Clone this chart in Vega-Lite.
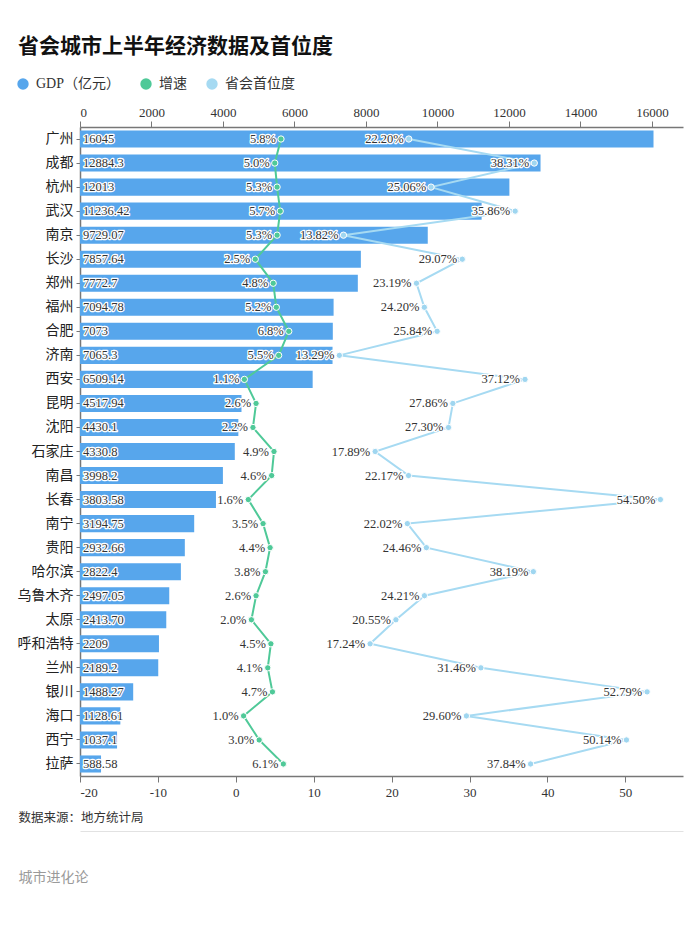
{
  "$schema": "https://vega.github.io/schema/vega-lite/v6.json",
  "autosize": "none",
  "width": 603,
  "height": 649,
  "padding": {"left": 80, "top": 127, "right": 17, "bottom": 158},
  "background": "white",
  "title": {
    "text": "省会城市上半年经济数据及首位度",
    "anchor": "start",
    "frame": "group",
    "dx": -62,
    "offset": 20,
    "fontSize": 21,
    "fontWeight": "bold",
    "color": "#111",
    "font": "Liberation Serif, Noto Sans CJK SC"
  },
  "config": {
    "view": {"stroke": null},
    "font": "Liberation Serif, Noto Sans CJK SC",
    "axis": {
      "grid": false,
      "domainColor": "#777",
      "domainWidth": 1.5,
      "tickColor": "#777",
      "labelColor": "#333",
      "labelFontSize": 13,
      "titleFont": "Noto Sans CJK SC"
    }
  },
  "data": {
    "values": [
      {"city": "广州", "gdp": 16045, "gdpText": "16045", "growth": 5.8, "growthText": "5.8%", "primacy": 22.20, "primacyText": "22.20%"},
      {"city": "成都", "gdp": 12884.3, "gdpText": "12884.3", "growth": 5.0, "growthText": "5.0%", "primacy": 38.31, "primacyText": "38.31%"},
      {"city": "杭州", "gdp": 12013, "gdpText": "12013", "growth": 5.3, "growthText": "5.3%", "primacy": 25.06, "primacyText": "25.06%"},
      {"city": "武汉", "gdp": 11236.42, "gdpText": "11236.42", "growth": 5.7, "growthText": "5.7%", "primacy": 35.86, "primacyText": "35.86%"},
      {"city": "南京", "gdp": 9729.07, "gdpText": "9729.07", "growth": 5.3, "growthText": "5.3%", "primacy": 13.82, "primacyText": "13.82%"},
      {"city": "长沙", "gdp": 7857.64, "gdpText": "7857.64", "growth": 2.5, "growthText": "2.5%", "primacy": 29.07, "primacyText": "29.07%"},
      {"city": "郑州", "gdp": 7772.7, "gdpText": "7772.7", "growth": 4.8, "growthText": "4.8%", "primacy": 23.19, "primacyText": "23.19%"},
      {"city": "福州", "gdp": 7094.78, "gdpText": "7094.78", "growth": 5.2, "growthText": "5.2%", "primacy": 24.20, "primacyText": "24.20%"},
      {"city": "合肥", "gdp": 7073, "gdpText": "7073", "growth": 6.8, "growthText": "6.8%", "primacy": 25.84, "primacyText": "25.84%"},
      {"city": "济南", "gdp": 7065.3, "gdpText": "7065.3", "growth": 5.5, "growthText": "5.5%", "primacy": 13.29, "primacyText": "13.29%"},
      {"city": "西安", "gdp": 6509.14, "gdpText": "6509.14", "growth": 1.1, "growthText": "1.1%", "primacy": 37.12, "primacyText": "37.12%"},
      {"city": "昆明", "gdp": 4517.94, "gdpText": "4517.94", "growth": 2.6, "growthText": "2.6%", "primacy": 27.86, "primacyText": "27.86%"},
      {"city": "沈阳", "gdp": 4430.1, "gdpText": "4430.1", "growth": 2.2, "growthText": "2.2%", "primacy": 27.30, "primacyText": "27.30%"},
      {"city": "石家庄", "gdp": 4330.8, "gdpText": "4330.8", "growth": 4.9, "growthText": "4.9%", "primacy": 17.89, "primacyText": "17.89%"},
      {"city": "南昌", "gdp": 3998.2, "gdpText": "3998.2", "growth": 4.6, "growthText": "4.6%", "primacy": 22.17, "primacyText": "22.17%"},
      {"city": "长春", "gdp": 3803.58, "gdpText": "3803.58", "growth": 1.6, "growthText": "1.6%", "primacy": 54.50, "primacyText": "54.50%"},
      {"city": "南宁", "gdp": 3194.75, "gdpText": "3194.75", "growth": 3.5, "growthText": "3.5%", "primacy": 22.02, "primacyText": "22.02%"},
      {"city": "贵阳", "gdp": 2932.66, "gdpText": "2932.66", "growth": 4.4, "growthText": "4.4%", "primacy": 24.46, "primacyText": "24.46%"},
      {"city": "哈尔滨", "gdp": 2822.4, "gdpText": "2822.4", "growth": 3.8, "growthText": "3.8%", "primacy": 38.19, "primacyText": "38.19%"},
      {"city": "乌鲁木齐", "gdp": 2497.05, "gdpText": "2497.05", "growth": 2.6, "growthText": "2.6%", "primacy": 24.21, "primacyText": "24.21%"},
      {"city": "太原", "gdp": 2413.70, "gdpText": "2413.70", "growth": 2.0, "growthText": "2.0%", "primacy": 20.55, "primacyText": "20.55%"},
      {"city": "呼和浩特", "gdp": 2209, "gdpText": "2209", "growth": 4.5, "growthText": "4.5%", "primacy": 17.24, "primacyText": "17.24%"},
      {"city": "兰州", "gdp": 2189.2, "gdpText": "2189.2", "growth": 4.1, "growthText": "4.1%", "primacy": 31.46, "primacyText": "31.46%"},
      {"city": "银川", "gdp": 1488.27, "gdpText": "1488.27", "growth": 4.7, "growthText": "4.7%", "primacy": 52.79, "primacyText": "52.79%"},
      {"city": "海口", "gdp": 1128.61, "gdpText": "1128.61", "growth": 1.0, "growthText": "1.0%", "primacy": 29.60, "primacyText": "29.60%"},
      {"city": "西宁", "gdp": 1037.1, "gdpText": "1037.1", "growth": 3.0, "growthText": "3.0%", "primacy": 50.14, "primacyText": "50.14%"},
      {"city": "拉萨", "gdp": 588.58, "gdpText": "588.58", "growth": 6.1, "growthText": "6.1%", "primacy": 37.84, "primacyText": "37.84%"}
    ]
  },
  "encoding": {
    "y": {
      "field": "city",
      "type": "nominal",
      "sort": null,
      "scale": {"paddingInner": 0.29, "paddingOuter": 0.145},
      "axis": {
        "title": "城市进化论",
        "titleAngle": 0,
        "titleX": -62,
        "titleY": 750,
        "titleAlign": "left",
        "titleBaseline": "middle",
        "titleColor": "#9a9a9a",
        "titleFontSize": 14,
        "titleFontWeight": "normal",
        "labelFontSize": 14,
        "labelColor": "#222",
        "labelPadding": 3,
        "tickSize": 4
      }
    }
  },
  "layer": [
    {
      "encoding": {
        "x": {
          "field": "gdp",
          "type": "quantitative",
          "scale": {"domain": [0, 16870], "nice": false, "zero": false},
          "axis": {"orient": "top", "title": null, "values": [0, 2000, 4000, 6000, 8000, 10000, 12000, 14000, 16000], "labelExpr": "'' + datum.value", "tickSize": 6, "labelPadding": 2}
        }
      },
      "layer": [
        {
          "mark": {"type": "bar"},
          "encoding": {
            "color": {
              "datum": "GDP（亿元）",
              "scale": {"domain": ["GDP（亿元）", "增速", "省会首位度"], "range": ["#57a6ec", "#4fc998", "#a6daf2"]},
              "legend": {
                "title": null,
                "orient": "none",
                "legendX": -64,
                "legendY": -50,
                "direction": "horizontal",
                "symbolType": "circle",
                "symbolSize": 130,
                "symbolStrokeWidth": 0,
                "labelFontSize": 14,
                "labelColor": "#333",
                "labelFont": "Liberation Serif, Noto Sans CJK SC",
                "columnPadding": 18,
                "labelOffset": 6
              }
            }
          }
        },
        {
          "mark": {"type": "text", "align": "left", "baseline": "middle", "dx": 3, "fontSize": 12.5, "fill": "#333", "stroke": "white", "strokeWidth": 2.5, "strokeJoin": "round"},
          "encoding": {"x": {"datum": 0}, "text": {"field": "gdpText"}}
        }
      ]
    },
    {
      "mark": {"type": "text", "align": "left", "baseline": "middle", "dx": 3, "fontSize": 12.5, "fill": "#333"},
      "encoding": {
        "x": {
          "datum": 0,
          "type": "quantitative",
          "scale": {"domain": [0, 16870], "nice": false, "zero": false},
          "axis": {"orient": "bottom", "offset": 55, "title": null, "labels": false, "ticks": false, "domainColor": "#e2e2e2", "domainWidth": 1}
        },
        "text": {"field": "gdpText"}
      }
    },
    {
      "encoding": {
        "x": {
          "field": "growth",
          "type": "quantitative",
          "scale": {"domain": [-20, 57.4], "nice": false, "zero": false},
          "axis": {
            "orient": "bottom",
            "values": [-20, -10, 0, 10, 20, 30, 40, 50],
            "labelExpr": "'' + datum.value",
            "tickSize": 6,
            "labelPadding": 4,
            "title": "数据来源：地方统计局",
            "titleX": -62,
            "titleY": 41,
            "titleAlign": "left",
            "titleAnchor": "start",
            "titleBaseline": "middle",
            "titleFontSize": 12.5,
            "titleFontWeight": "normal",
            "titleColor": "#333"
          }
        }
      },
      "layer": [
        {
          "mark": {"type": "line", "strokeWidth": 2, "color": "#a6daf2"},
          "encoding": {"x": {"field": "primacy", "type": "quantitative"}, "order": {"value": null}}
        },
        {
          "mark": {"type": "line", "strokeWidth": 2, "color": "#4fc998"},
          "encoding": {"order": {"value": null}}
        },
        {
          "mark": {"type": "point", "filled": true, "size": 40, "color": "#9fd6f0", "stroke": "white", "strokeWidth": 1, "opacity": 1},
          "encoding": {"x": {"field": "primacy", "type": "quantitative"}}
        },
        {
          "mark": {"type": "point", "filled": true, "size": 40, "color": "#4fc998", "stroke": "white", "strokeWidth": 1, "opacity": 1},
          "encoding": {}
        },
        {
          "mark": {"type": "text", "align": "right", "baseline": "middle", "dx": -5, "fontSize": 12.5, "fill": "#333", "stroke": "white", "strokeWidth": 2.5, "strokeJoin": "round"},
          "encoding": {"x": {"field": "primacy", "type": "quantitative"}, "text": {"field": "primacyText"}}
        },
        {
          "mark": {"type": "text", "align": "right", "baseline": "middle", "dx": -5, "fontSize": 12.5, "fill": "#333"},
          "encoding": {"x": {"field": "primacy", "type": "quantitative"}, "text": {"field": "primacyText"}}
        },
        {
          "mark": {"type": "text", "align": "right", "baseline": "middle", "dx": -5, "fontSize": 12.5, "fill": "#333", "stroke": "white", "strokeWidth": 2.5, "strokeJoin": "round"},
          "encoding": {"text": {"field": "growthText"}}
        },
        {
          "mark": {"type": "text", "align": "right", "baseline": "middle", "dx": -5, "fontSize": 12.5, "fill": "#333"},
          "encoding": {"text": {"field": "growthText"}}
        }
      ]
    }
  ],
  "resolve": {"scale": {"x": "independent"}, "axis": {"x": "independent"}}
}
